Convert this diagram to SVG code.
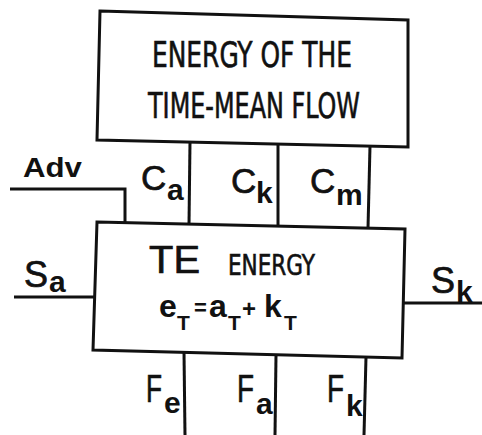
<svg xmlns="http://www.w3.org/2000/svg" width="482" height="435" viewBox="0 0 482 435">
<style>
.box{fill:#fff;stroke:#111;stroke-width:3;stroke-linejoin:miter}
.ln{fill:none;stroke:#111;stroke-width:3}
.cond{font-family:"DejaVu Sans Condensed","Liberation Sans",sans-serif;font-stretch:condensed;fill:#111;stroke:#111;stroke-width:0.6}
.main{font-family:"Liberation Sans",Arial,sans-serif;fill:#111;stroke:#111;stroke-width:0.7}
.sub{font-family:"Liberation Sans",Arial,sans-serif;font-weight:bold;fill:#111;font-size:30px}
.eq{font-family:"Liberation Sans",Arial,sans-serif;font-weight:bold;fill:#111}
</style>
<rect width="482" height="435" fill="#fff"/>
<g id="connectors">
  <polyline class="ln" points="10,189 125,189 125,223"/>
  <line class="ln" x1="190" y1="142" x2="189" y2="224"/>
  <line class="ln" x1="278" y1="144" x2="278" y2="226"/>
  <line class="ln" x1="370" y1="146" x2="368" y2="228"/>
  <line class="ln" x1="14" y1="297" x2="95" y2="297"/>
  <line class="ln" x1="403" y1="303" x2="482" y2="303"/>
  <line class="ln" x1="184" y1="352" x2="185" y2="435"/>
  <line class="ln" x1="276" y1="355" x2="275" y2="435"/>
  <line class="ln" x1="366" y1="357" x2="364" y2="435"/>
</g>
<g id="mean-flow">
  <polygon class="box" points="100,11 408,20 408,147 97,140"/>
  <text class="cond" x="152" y="67" font-size="35" textLength="200" lengthAdjust="spacingAndGlyphs">ENERGY OF THE</text>
  <text class="cond" x="148" y="118" font-size="35" textLength="212" lengthAdjust="spacingAndGlyphs">TIME-MEAN FLOW</text>
</g>
<g id="te-energy">
  <polygon class="box" points="97,222 405,229 402,358 93,350"/>
  <text class="main" x="149" y="273" font-size="39" textLength="51" lengthAdjust="spacingAndGlyphs">TE</text>
  <text class="cond" x="228" y="275" font-size="28" textLength="87" lengthAdjust="spacingAndGlyphs">ENERGY</text>
  <text class="eq" x="159" y="317" font-size="32">e</text>
  <text class="eq" x="177" y="330" font-size="21">T</text>
  <text class="eq" x="194" y="315" font-size="22">=</text>
  <text class="eq" x="209" y="317" font-size="32">a</text>
  <text class="eq" x="228" y="330" font-size="21">T</text>
  <text class="eq" x="242" y="317" font-size="24">+</text>
  <text class="eq" x="264" y="317" font-size="32">k</text>
  <text class="eq" x="284" y="330" font-size="21">T</text>
</g>
<g id="labels">
  <text class="eq" x="23" y="177" font-size="27" textLength="59" lengthAdjust="spacingAndGlyphs">Adv</text>
  <text class="main" x="141" y="190" font-size="35">C</text><text class="sub" x="167" y="200">a</text>
  <text class="main" x="231" y="193" font-size="35">C</text><text class="sub" x="256" y="203">k</text>
  <text class="main" x="310" y="193" font-size="35">C</text><text class="sub" x="336" y="205">m</text>
  <text class="main" x="24" y="287" font-size="36">S</text><text class="sub" x="49" y="292">a</text>
  <text class="main" x="431" y="293" font-size="36">S</text><text class="sub" x="456" y="302">k</text>
  <text class="main" x="146" y="402" font-size="38" textLength="16" lengthAdjust="spacingAndGlyphs">F</text><text class="sub" x="164" y="413">e</text>
  <text class="main" x="237" y="402" font-size="38" textLength="17" lengthAdjust="spacingAndGlyphs">F</text><text class="sub" x="256" y="414">a</text>
  <text class="main" x="327" y="402" font-size="38" textLength="17" lengthAdjust="spacingAndGlyphs">F</text><text class="sub" x="346" y="416">k</text>
</g>
</svg>
